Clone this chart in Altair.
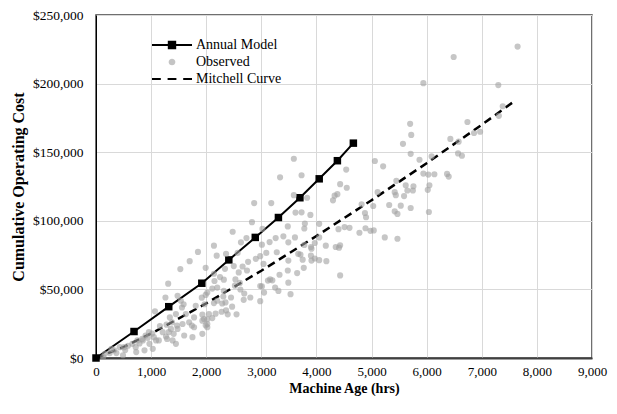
import altair as alt
import pandas as pd

FONT = "Liberation Serif"

# Annual Model (cumulative cost at each model year)
annual_age = [0, 690, 1320, 1920, 2410, 2890, 3310, 3700, 4050, 4380, 4670]
annual_cost = [0, 19300, 37400, 54500, 71500, 87900, 102400, 116800, 130600, 143800, 156600]

# Mitchell Curve
mitchell_age = [0, 500, 1000, 2000, 3000, 4000, 5000, 6000, 7000, 7620]
mitchell_cost = [0, 8000, 17800, 39800, 63600, 88900, 115000, 142000, 170000, 188000]

# Observed machines (age in hrs, cumulative operating cost in $)
obs_age = [
    7650, 6490, 5940, 7300, 7380, 7310, 6740, 5700, 5720, 5570, 6430, 6580, 6860, 6970,
    5710, 5870, 6090, 6570, 6640, 5060, 5210, 4540, 3730, 5940, 6030, 6140, 6370, 6400,
    4430, 4550, 4380, 4330, 4300, 5450, 5620, 5760, 5650, 5750, 6050, 6020, 5420, 5440,
    5590, 5110, 3830, 4820, 5030, 5320, 5530, 5710, 6040, 5420, 5470, 4880, 4900, 3890,
    3730, 3790, 3780, 4050, 4400, 4510, 4600, 4780, 4890, 4980, 5040, 5240, 5470, 4050,
    3970, 3900, 3910, 4170, 4350, 4410, 4430, 3710, 3900, 3970, 4050, 4180, 3910, 3750,
    3590, 3340, 2870, 3180, 3590, 3620, 2830, 3020, 3480, 2480, 2730, 2630, 2140, 2190,
    2360, 2570, 3010, 3150, 3260, 3400, 3490, 3610, 3780, 4430, 3670, 3490, 3280, 3090,
    2980, 2900, 3040, 2760, 2660, 2740, 2590, 2500, 2340, 2250, 2320, 1990, 2150, 2520,
    2610, 2620, 3330, 3480, 3650, 3770, 3120, 3200, 3010, 3050, 3250, 3310, 3530, 2980,
    2690, 2680, 2800, 2450, 2310, 2290, 2140, 2110, 1990, 1970, 2470, 2360, 2280, 2390,
    2550, 2170, 2110, 2020, 1930, 1990, 2200,
    1850, 1700, 1530, 1310, 1260, 1070, 1340, 1160, 1280, 1210, 1270, 1020, 940, 850,
    790, 1090, 970, 660, 580, 530, 430, 280, 250, 370, 160, 130, 490, 1540, 1560, 1450,
    1630, 1690, 1360, 1480, 1570, 1780, 1780, 1750, 1600, 1390, 1450, 1960, 2050, 2020,
    1930, 1810, 1030, 880, 730, 1480, 2140,
    1590, 1920, 1470, 1740, 1320, 1410, 1050, 840, 1140, 1290, 510, 330, 720, 900,
    960, 750, 1380, 2530, 2200, 2320, 2020, 2350, 2020, 1930, 2980, 3160, 3490,
]
obs_cost = [
    227000, 219400, 200300, 198900, 183500, 176500, 172000, 170700, 162600, 156100, 159700, 157700, 164000, 164900,
    148800, 144500, 146900, 149100, 147400, 143600, 139700, 137300, 133200, 134400, 133700, 133900, 134200, 132200,
    126700, 124100, 119400, 118300, 114900, 129100, 125900, 125200, 122100, 122100, 125900, 122600, 120900, 118700,
    118000, 120900, 116800, 112000, 110800, 111500, 111000, 109300, 106400, 106900, 105000, 105700, 102600, 104300,
    106200, 98000, 94400, 97800, 93900, 95400, 94900, 91300, 94600, 92700, 93000, 87900, 86900, 87900,
    83800, 80900, 79700, 81900, 80900, 80400, 82100, 75400, 74600, 72500, 71300, 70600, 71000, 71700,
    145200, 131700, 112900, 112900, 118700, 106000, 99000, 94100, 95900, 92000, 87400, 84300, 81900, 74600,
    75900, 76600, 82600, 84500, 87400, 88700, 84300, 87900, 82400, 60200, 75900, 71000, 77100, 76600,
    74200, 72300, 68600, 70100, 66700, 63800, 62400, 67000, 65000, 59000, 57100, 65700, 56100, 52700,
    54700, 49900, 60700, 63800, 61900, 65700, 56400, 56600, 52200, 47700, 51300, 48900, 46500, 41400,
    47000, 42400, 44100, 44100, 44800, 39700, 40000, 50600, 46000, 39200, 37400, 34700, 33700, 31800,
    31800, 32300, 29100, 28200, 31600, 23800, 41700,
    77300, 70600, 64800, 54200, 44100, 34000, 29600, 23300, 24300, 18800, 15700, 17800, 14700, 12800,
    10600, 12800, 10300, 10300, 8900, 5800, 7900, 6700, 3600, 3600, 3100, 700, 2000, 41700, 36800, 32000,
    32000, 26000, 21200, 21200, 24800, 29600, 22400, 15200, 16400, 12800, 10300, 28400, 32000, 22400,
    17600, 38100, 6700, 5600, 4300, 45300, 61400,
    39200, 44000, 23600, 23600, 18800, 17600, 15200, 13900, 12800, 13900, 7900, 5600, 7900, 16400,
    18800, 12800, 26000, 57300, 51300, 48900, 47700, 40500, 24800, 27200, 52500, 57300, 54900,
]

series_names = ["Annual Model", "Observed", "Mitchell Curve"]
x_ticks = list(range(0, 9001, 1000))
y_ticks = list(range(0, 250001, 50000))

obs = pd.DataFrame({"age": obs_age, "cost": obs_cost})
annual = pd.DataFrame({"age": annual_age, "cost": annual_cost})
mitchell = pd.DataFrame({"age": mitchell_age, "cost": mitchell_cost})
legend_df = pd.DataFrame({"series": series_names})

x_scale = alt.Scale(domain=[0, 9000], nice=False)
y_scale = alt.Scale(domain=[0, 250000], nice=False)

x_axis = alt.Axis(
    title="Machine Age (hrs)", values=x_ticks, format=",d", ticks=False,
    labelPadding=7, titlePadding=3, domainColor="#404040", domainWidth=2,
    gridColor="#d9d9d9", labelFlush=False, labelFontSize=13,
)
y_axis = alt.Axis(
    title="Cumulative Operating Cost", values=y_ticks, format="$,.0f", ticks=False,
    labelPadding=13, titlePadding=6, domainColor="#000000", domainWidth=1,
    gridColor="#d9d9d9", labelFlush=False,
)

X = alt.X("age:Q", scale=x_scale, axis=x_axis)
Y = alt.Y("cost:Q", scale=y_scale, axis=y_axis)

mitchell_line = alt.Chart(mitchell).mark_line(
    color="black", strokeWidth=2.5, strokeDash=[8, 5], clip=False
).encode(x=X, y=Y)

annual_line = alt.Chart(annual).mark_line(
    color="black", strokeWidth=2, clip=False
).encode(x=X, y=Y)

annual_pts = alt.Chart(annual).mark_square(
    color="black", size=56, opacity=1
).encode(x=X, y=Y)

obs_pts = alt.Chart(obs).mark_circle(
    color="#a0a0a0", size=38, opacity=0.6
).encode(x=X, y=Y)

p_annual = "M-2.5,0H2.5M-0.4,-0.4H0.4V0.4H-0.4Z"
p_obs = "M0.42,0A0.42,0.42,0,1,1,-0.42,0A0.42,0.42,0,1,1,0.42,0Z"
p_mitch = "M-2.5,0H-1.4M-0.55,0H0.55M1.4,0H2.5"

leg = alt.Legend(
    title=None, orient="none", legendX=67, legendY=21, padding=0,
    symbolSize=256, symbolStrokeWidth=2, labelFont=FONT, labelFontSize=14,
    labelColor="black", labelOffset=15, rowPadding=0,
)

legend_layer = alt.Chart(legend_df).transform_filter("false").mark_point(
    filled=True, opacity=1
).encode(
    shape=alt.Shape("series:N", scale=alt.Scale(domain=series_names, range=[p_annual, p_obs, p_mitch]), legend=leg),
    fill=alt.Fill("series:N", scale=alt.Scale(domain=series_names, range=["#000000", "#c4c4c4", "rgba(0,0,0,0)"]), legend=leg),
    stroke=alt.Stroke("series:N", scale=alt.Scale(domain=series_names, range=["#000000", "rgba(0,0,0,0)", "#000000"]), legend=leg),
)

chart = alt.layer(mitchell_line, annual_line, annual_pts, obs_pts, legend_layer).properties(
    width=496, height=343,
    autosize=alt.AutoSizeParams(type="none"),
    padding={"left": 88, "top": 7, "right": 16, "bottom": 38},
    background="white",
).configure_view(
    stroke="#404040", strokeWidth=1.5
).configure_axis(
    labelFont=FONT, labelFontSize=13.5, labelColor="black",
    titleFont=FONT, titleFontSize=14, titleFontWeight="bold", titleColor="black",
    gridWidth=1,
).configure_axisY(
    titleFontSize=16,
)

chart.save("out.html", embed_options={"renderer": "svg", "actions": False})
